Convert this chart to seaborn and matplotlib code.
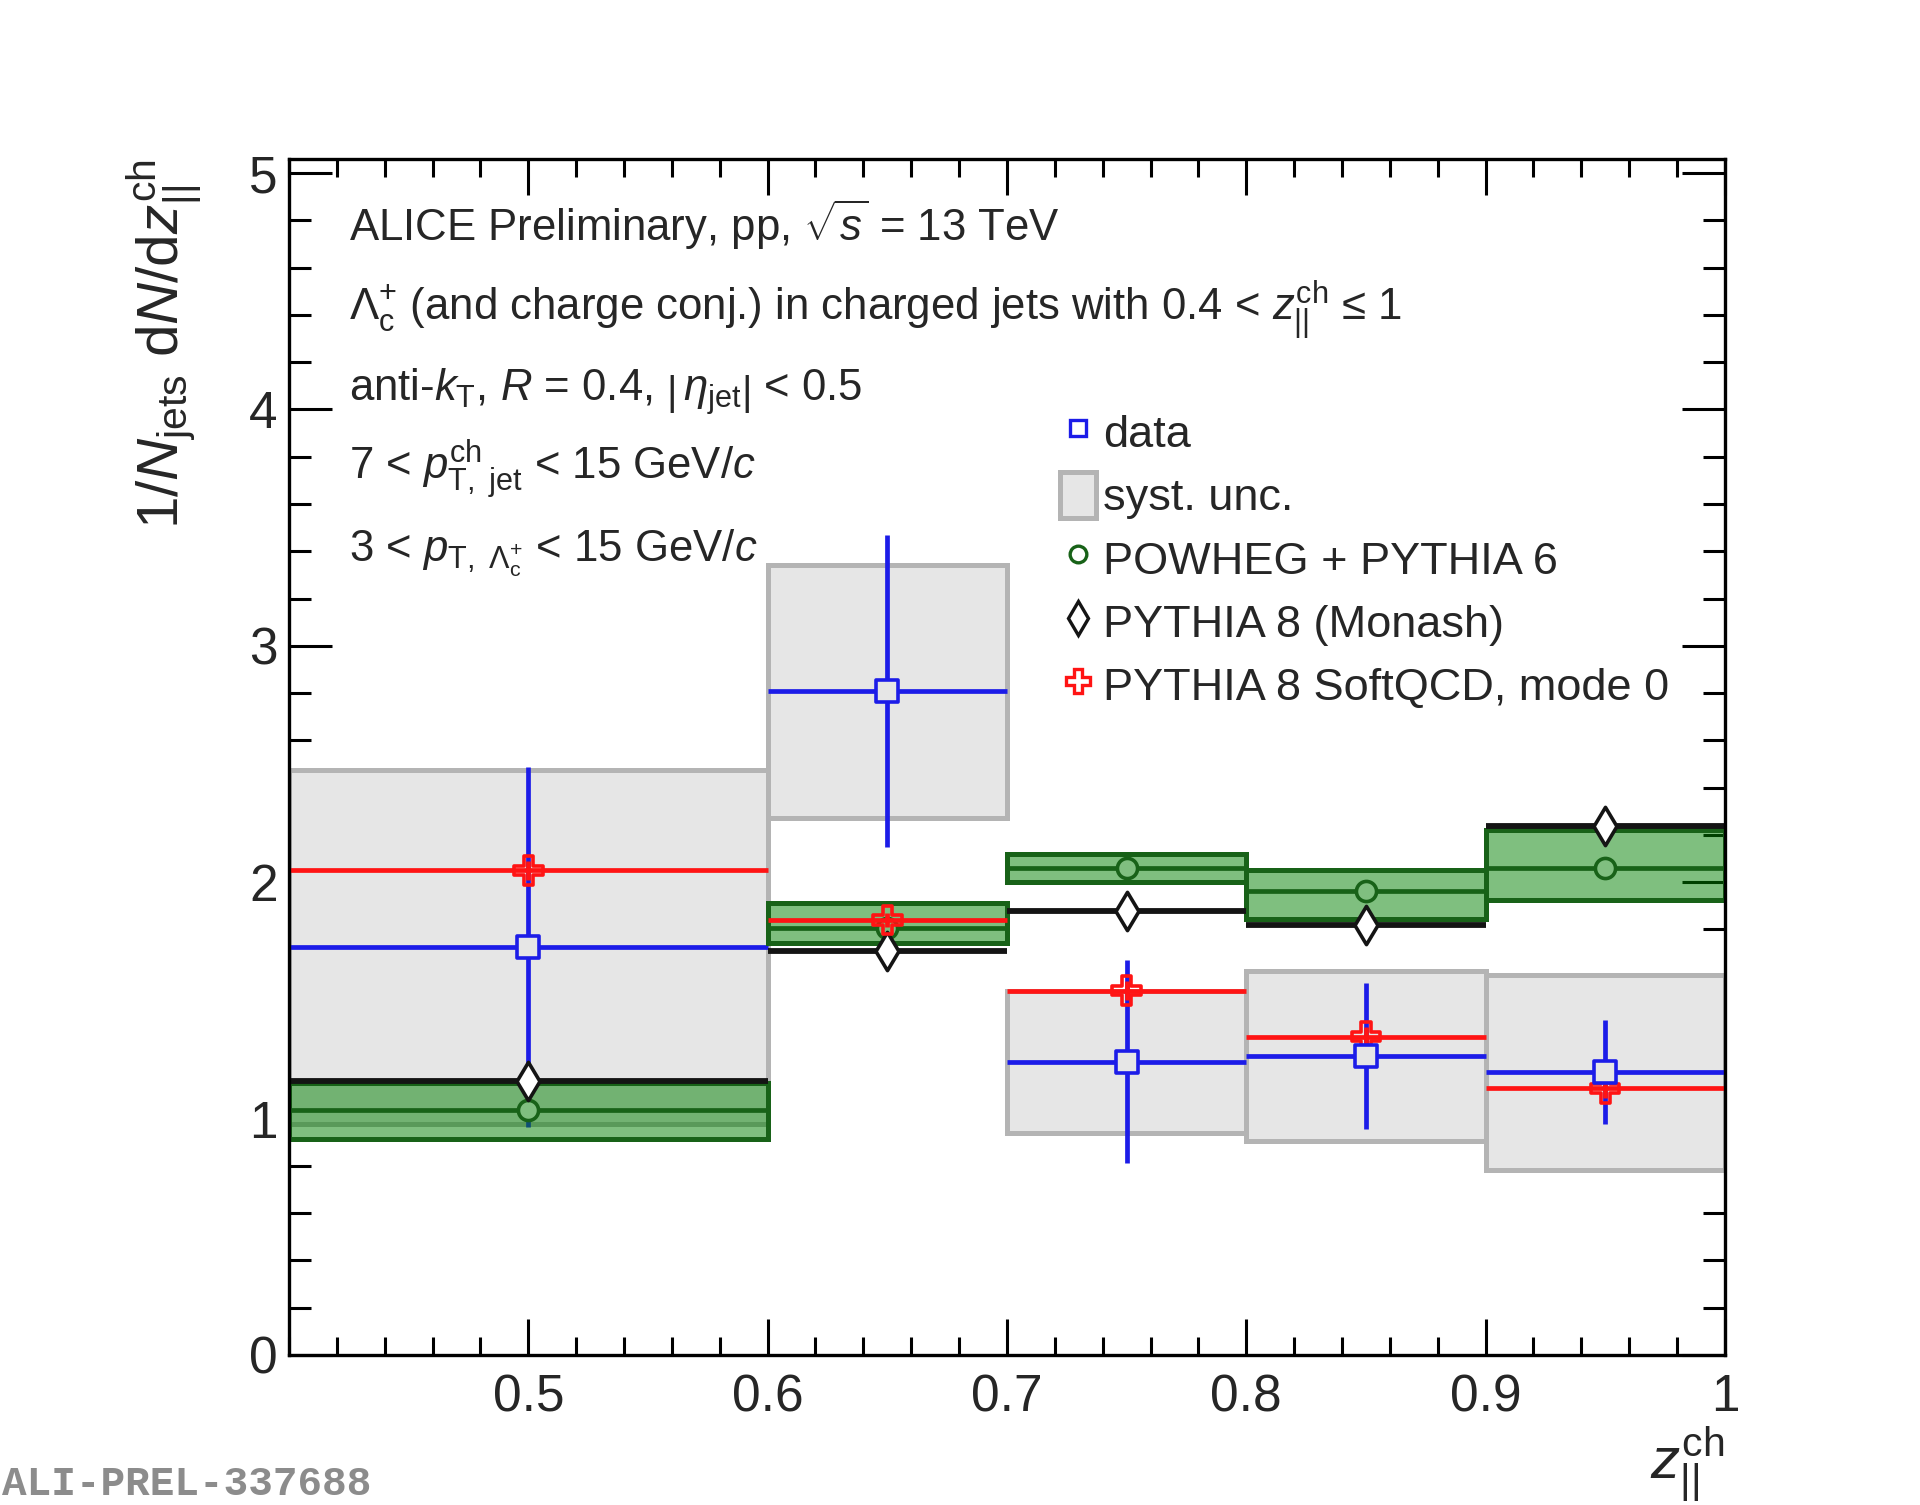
import numpy as np
import seaborn as sns
import matplotlib.pyplot as plt
from matplotlib.lines import Line2D
from matplotlib.patches import Patch
from matplotlib.ticker import MultipleLocator, FixedLocator, FuncFormatter

# bins in z_||^ch
bin_lo = [0.4, 0.6, 0.7, 0.8, 0.9]
bin_hi = [0.6, 0.7, 0.8, 0.9, 1.0]

# ALICE data
data_y = [1.726, 2.808, 1.240, 1.264, 1.195]
data_stat = [0.76, 0.66, 0.43, 0.31, 0.22]
data_syst = [0.75, 0.536, 0.30, 0.36, 0.414]

# POWHEG + PYTHIA 6 (central value and band)
powheg_y = [1.036, 1.805, 2.061, 1.961, 2.060]
powheg_lo = [0.913, 1.741, 2.003, 1.846, 1.923]
powheg_hi = [1.150, 1.910, 2.118, 2.050, 2.222]

# PYTHIA 8 Monash
monash_y = [1.158, 1.707, 1.879, 1.820, 2.236]

# PYTHIA 8 SoftQCD mode 0
softqcd_y = [2.050, 1.840, 1.541, 1.347, 1.128]
softqcd_err = [0.04, 0.03, 0.04, 0.04, 0.04]

x_ticks = [0.5, 0.6, 0.7, 0.8, 0.9, 1.0]
y_ticks = [0, 1, 2, 3, 4, 5]

info_lines = [
    r'ALICE Preliminary, pp, $\sqrt{s}$ = 13 TeV',
    r'$\Lambda_{\rm c}^{+}$ (and charge conj.) in charged jets with 0.4 < $z_{||}^{\rm ch}$ ≤ 1',
    r'anti-$k_{\rm T}$, $R$ = 0.4, $\left|\,\eta_{\rm jet}\right|$ < 0.5',
    r'7 < $p_{\rm T,\ jet}^{\rm ch}$ < 15 GeV/$c$',
    r'3 < $p_{{\rm T},\ \Lambda_{\rm c}^{+}}$ < 15 GeV/$c$',
]

legend_labels = ['data', 'syst. unc.', 'POWHEG + PYTHIA 6',
                 'PYTHIA 8 (Monash)', 'PYTHIA 8 SoftQCD, mode 0']

sns.set_style('ticks')
plt.rcParams['font.family'] = ['Liberation Sans', 'DejaVu Sans']
plt.rcParams['mathtext.fontset'] = 'custom'
plt.rcParams['mathtext.rm'] = 'Liberation Sans'
plt.rcParams['mathtext.it'] = 'Liberation Sans:italic'
plt.rcParams['mathtext.bf'] = 'Liberation Sans:bold'
plt.rcParams['mathtext.sf'] = 'Liberation Sans'

BLUE = '#1c1ce8'
RED = '#ff1414'
GREEN_EDGE = '#186218'
GREEN_FILL = '#008000'
GRAY_FILL = '#e6e6e6'
GRAY_EDGE = '#b4b4b4'

lo = np.array(bin_lo)
hi = np.array(bin_hi)
centers = 0.5 * (lo + hi)
widths = hi - lo
half = widths / 2

fig = plt.figure(figsize=(19.2, 15.05), dpi=100)
ax = fig.add_axes([0.1505, 0.0997, 0.7479, 0.7947])

# systematic boxes of data
d = np.array(data_y)
s = np.array(data_syst)
ax.bar(centers, 2 * s, width=widths, bottom=d - s, color=GRAY_FILL,
       edgecolor=GRAY_EDGE, linewidth=3.6, zorder=1)

# data with stat errors
ax.errorbar(centers, data_y, xerr=half, yerr=data_stat, fmt='none',
            ecolor=BLUE, elinewidth=3.4, capsize=0, zorder=3)

# POWHEG band
plo = np.array(powheg_lo)
phi = np.array(powheg_hi)
ax.bar(centers, phi - plo, width=widths, bottom=plo, color=GREEN_FILL,
       alpha=0.5, edgecolor='none', zorder=4)
ax.bar(centers, phi - plo, width=widths, bottom=plo, fill=False,
       edgecolor=GREEN_EDGE, linewidth=3.6, zorder=4.1)
ax.errorbar(centers, powheg_y, xerr=half, fmt='none', ecolor=GREEN_EDGE,
            elinewidth=3.4, capsize=0, zorder=4.2)
sns.scatterplot(x=centers, y=powheg_y, marker='o', s=210, facecolor='#80bf80',
                edgecolor=GREEN_EDGE, linewidth=2.6, zorder=4.3, ax=ax)

# Monash
ax.errorbar(centers, monash_y, xerr=half, fmt='none', ecolor='#141414',
            elinewidth=4.2, capsize=0, zorder=5)
sns.scatterplot(x=centers, y=monash_y, marker='d', s=380, facecolor='white',
                edgecolor='#141414', linewidth=2.6, zorder=5.1, ax=ax)

# SoftQCD
ax.errorbar(centers, softqcd_y, xerr=half, yerr=softqcd_err, fmt='none',
            ecolor=RED, elinewidth=3.4, capsize=0, zorder=6)
sns.scatterplot(x=centers, y=softqcd_y, marker='P', s=420, facecolor='none',
                edgecolor=RED, linewidth=2.6, zorder=6.1, ax=ax)

# data markers
sns.scatterplot(x=centers, y=data_y, marker='s', s=260, facecolor=GRAY_FILL,
                edgecolor=BLUE, linewidth=2.6, zorder=7, ax=ax)

ax.set_xlim(0.4, 1.0)
ax.set_ylim(0, 5.06)

ax.xaxis.set_major_locator(FixedLocator(x_ticks))
ax.xaxis.set_minor_locator(MultipleLocator(0.02))
ax.xaxis.set_major_formatter(FuncFormatter(lambda v, _: '{:g}'.format(round(v, 2))))
ax.yaxis.set_major_locator(FixedLocator(y_ticks))
ax.yaxis.set_minor_locator(MultipleLocator(0.2))

ax.tick_params(which='both', direction='in', top=True, right=True,
               width=2.2, color='black', labelsize=37)
ax.tick_params(axis='x', which='major', length=26, pad=13)
ax.tick_params(axis='x', which='minor', length=13)
ax.tick_params(axis='y', which='major', length=31, pad=8)
ax.tick_params(axis='y', which='minor', length=15.5)
for sp in ax.spines.values():
    sp.set_linewidth(2.4)
    sp.set_color('black')
    sp.set_zorder(10)

ax.set_xlabel(r'$z_{||}^{\rm ch}$', fontsize=42, ha='right', va='top')
ax.xaxis.set_label_coords(1.0, -0.058)
ax.set_ylabel(r'$1/N_{\rm jets}\ {\rm d}N/{\rm d}z_{||}^{\rm ch}$',
              fontsize=42, ha='right', va='center')
ax.yaxis.set_label_coords(-0.087, 1.0)

baselines = [0.9314, 0.8645, 0.7977, 0.7308, 0.6639]
for txt, yb in zip(info_lines, baselines):
    ax.text(0.042, yb, txt, transform=ax.transAxes, fontsize=31.5,
            va='baseline', ha='left', zorder=12)

handles = [
    Line2D([], [], marker='s', ls='none', ms=12, mfc='white', mec=BLUE, mew=2.4),
    Patch(facecolor=GRAY_FILL, edgecolor=GRAY_EDGE, linewidth=3.6),
    Line2D([], [], marker='o', ls='none', ms=12, mfc='white', mec=GREEN_EDGE, mew=2.4),
    Line2D([], [], marker='d', ls='none', ms=17, mfc='white', mec='#141414', mew=2.4),
    Line2D([], [], marker='P', ls='none', ms=17, mfc='white', mec=RED, mew=2.4),
]
ax.legend(handles, legend_labels, loc='upper left', bbox_to_anchor=(0.537, 0.791),
          frameon=False, fontsize=32.5, borderpad=0, borderaxespad=0,
          handlelength=0.8, handleheight=1.2, handletextpad=0.16,
          labelspacing=0.35)

fig.text(0.001, 0.014, 'ALI-PREL-337688', family='Liberation Mono',
         weight='bold', color='#8c8c8c', fontsize=29.5, va='center', ha='left')

fig.savefig('out.png', dpi=100)
